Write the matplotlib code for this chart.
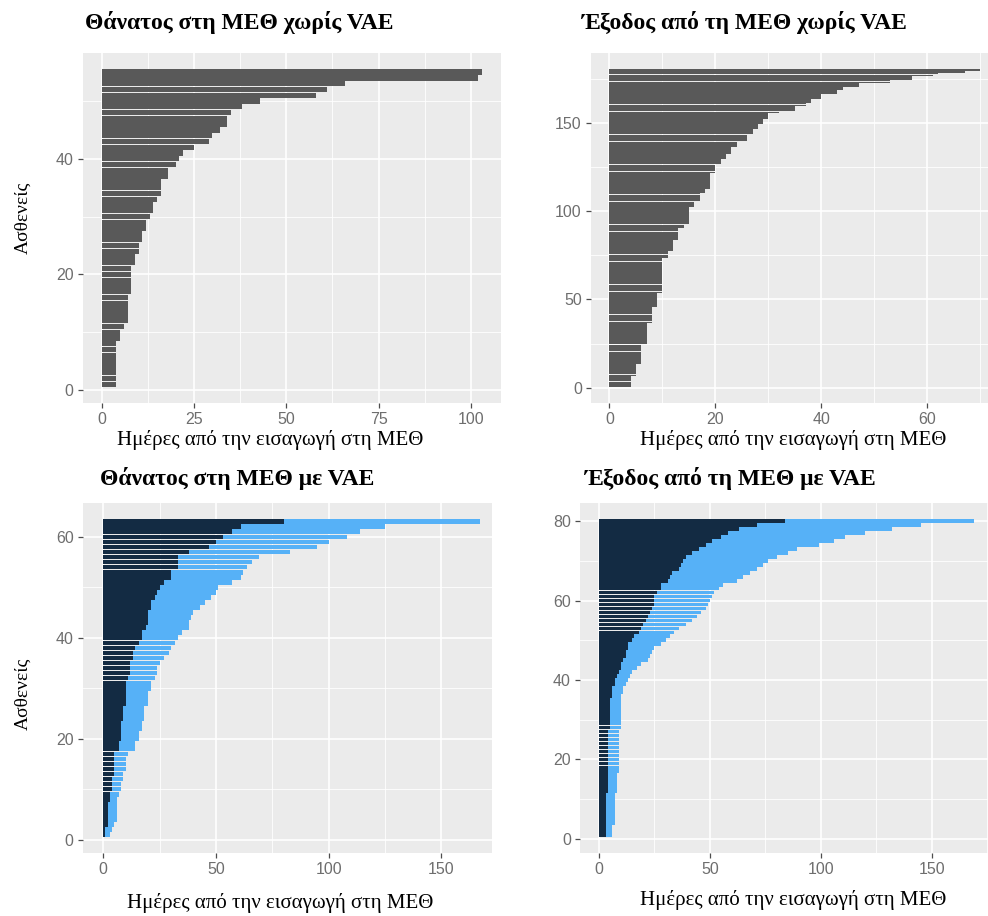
import numpy as np
import matplotlib
matplotlib.use("Agg")
import matplotlib.pyplot as plt

# --- data (days from ICU admission), patients sorted by length ---
# death in ICU without VAE (55 patients)
tl_days = [4, 4, 4, 4, 4, 4, 4, 4, 5, 5, 6, 7, 7, 7, 7, 7, 8, 8, 8, 8, 8,
           9, 9, 10, 10, 11, 11, 12, 12, 13, 14, 14, 15, 16, 16, 16, 18, 18,
           20, 21, 22, 25, 29, 30, 32, 34, 34, 35, 38, 43, 58, 61, 66, 102, 103]

# discharge from ICU without VAE (180 patients), as day levels and patient counts
tr_levels = [4, 5, 6, 7, 8, 9, 10, 11, 12, 13, 14, 15, 16, 17, 18, 19, 20, 21,
             22, 23, 24, 26, 27, 28, 29, 30, 32, 35, 37, 38, 40, 43, 44, 47,
             53, 57, 61, 62, 67, 70]
tr_counts = [6, 7, 11, 12, 9, 8, 20, 4, 6, 7, 2, 10, 3, 5, 2, 9, 5, 3,
             3, 4, 3, 4, 3, 3, 3, 3, 1, 3, 2, 2, 3, 2, 2, 2,
             2, 2, 1, 1, 1, 1]

# death in ICU with VAE (63 patients): days until VAE and total days
bl_vae = [1, 1, 2, 2, 2, 2, 2, 3, 3, 4, 4, 4, 5, 5, 5, 5, 5, 7, 7, 8, 8,
          8, 8, 9, 9, 9, 10, 10, 10, 10, 10, 11, 12, 12, 12, 13, 13, 14, 16,
          17, 17, 19, 20, 20, 20, 21, 21, 23, 24, 25, 27, 30, 30, 33, 33, 33,
          38, 47, 50, 53, 57, 61, 80]
bl_total = [3, 4, 5, 6, 6, 6, 6, 6, 7, 8, 8, 9, 9, 10, 10, 10, 11, 14, 14,
            16, 16, 17, 17, 18, 18, 18, 20, 20, 20, 21, 21, 23, 24, 24, 25,
            27, 29, 30, 32, 33, 35, 38, 38, 39, 40, 43, 45, 48, 50, 51, 57,
            61, 62, 64, 66, 69, 83, 95, 100, 108, 114, 125, 167]

# discharge from ICU with VAE (80 patients)
br_vae = [3, 3, 3, 3, 3, 3, 3, 3, 3, 3, 3, 4, 4, 4, 4, 4, 4, 4, 4, 4, 4, 4,
          4, 4, 4, 4, 4, 5, 5, 5, 5, 5, 5, 5, 5, 6, 6, 6, 7, 7, 8, 9, 10, 10,
          11, 12, 12, 13, 13, 15, 16, 18, 19, 20, 21, 22, 23, 24, 25, 25, 25,
          26, 28, 28, 31, 32, 33, 36, 37, 38, 39, 42, 45, 48, 51, 55, 58, 63,
          71, 84]
br_total = [6, 6, 6, 7, 7, 7, 7, 7, 7, 7, 7, 8, 8, 8, 8, 8, 9, 9, 9, 9, 9, 9,
            9, 9, 9, 9, 9, 10, 10, 10, 10, 10, 10, 10, 10, 10, 11, 11, 12, 13,
            14, 15, 17, 19, 22, 23, 24, 25, 28, 30, 32, 34, 36, 39, 42, 44,
            46, 48, 49, 50, 51, 52, 54, 56, 62, 65, 68, 71, 74, 76, 80, 85, 89,
            99, 106, 111, 120, 132, 145, 169]

titles = ["Θάνατος στη ΜΕΘ χωρίς VAE", "Έξοδος από τη ΜΕΘ χωρίς VAE",
          "Θάνατος στη ΜΕΘ με VAE", "Έξοδος από τη ΜΕΘ με VAE"]
xlabel = "Ημέρες από την εισαγωγή στη ΜΕΘ"
ylabel = "Ασθενείς"

GREY_BAR = "#595959"
NAVY = "#132B43"
LIGHT = "#56B1F7"
SERIF = "Liberation Serif"
SANS = "Liberation Sans"
BAR_H = 0.92

W, H = 988, 916
fig = plt.figure(figsize=(W / 100, H / 100), dpi=100)


def px_axes(x0, y0, x1, y1):
    return fig.add_axes([x0 / W, 1 - y1 / H, (x1 - x0) / W, (y1 - y0) / H])


def style(ax, xlim, ylim, xmaj, xmin, ymaj, ymin):
    ax.set_facecolor("#EBEBEB")
    ax.set_xlim(*xlim)
    ax.set_ylim(*ylim)
    ax.set_xticks(xmaj)
    ax.set_xticks(xmin, minor=True)
    ax.set_yticks(ymaj)
    ax.set_yticks(ymin, minor=True)
    ax.grid(True, which="major", color="white", lw=1.2)
    ax.grid(True, which="minor", color="white", lw=0.6)
    ax.set_axisbelow(True)
    for s in ax.spines.values():
        s.set_visible(False)
    ax.tick_params(which="major", length=3.5, width=0.9, color="#4D4D4D",
                   labelcolor="#6E6E6E", labelsize=11.5, pad=3)
    ax.tick_params(which="minor", length=0)
    for lab in ax.get_xticklabels() + ax.get_yticklabels():
        lab.set_fontfamily(SANS)


# top left
ax1 = px_axes(82.7, 53.3, 501, 403)
y1 = np.arange(1, len(tl_days) + 1)
ax1.barh(y1, tl_days, height=BAR_H, color=GREY_BAR, lw=0)
style(ax1, (-5.15, 108.15), (-2.25, 58.25),
      [0, 25, 50, 75, 100], [12.5, 37.5, 62.5, 87.5], [0, 20, 40], [10, 30, 50])

# top right
ax2 = px_axes(590.9, 53.3, 999, 402.7)
tr_days = np.repeat(tr_levels, tr_counts)
y2 = np.arange(1, len(tr_days) + 1)
ax2.barh(y2, tr_days, height=BAR_H, color=GREY_BAR, lw=0)
style(ax2, (-3.5, 73.5), (-8.5, 189.5),
      [0, 20, 40, 60], [10, 30, 50, 70], [0, 50, 100, 150], [25, 75, 125, 175])

# bottom left
ax3 = px_axes(82.7, 503.3, 492, 853)
y3 = np.arange(1, len(bl_total) + 1)
bl_after = np.array(bl_total) - np.array(bl_vae)
ax3.barh(y3, bl_vae, height=BAR_H, color=NAVY, lw=0)
ax3.barh(y3, bl_after, left=bl_vae, height=BAR_H, color=LIGHT, lw=0)
style(ax3, (-9.1, 172.5), (-2.65, 66.65),
      [0, 50, 100, 150], [25, 75, 125], [0, 20, 40, 60], [10, 30, 50])

# bottom right
ax4 = px_axes(580, 503.3, 993, 852.7)
y4 = np.arange(1, len(br_total) + 1)
br_after = np.array(br_total) - np.array(br_vae)
ax4.barh(y4, br_vae, height=BAR_H, color=NAVY, lw=0)
ax4.barh(y4, br_after, left=br_vae, height=BAR_H, color=LIGHT, lw=0)
style(ax4, (-8.55, 177.5), (-3.5, 84.5),
      [0, 50, 100, 150], [25, 75, 125, 175], [0, 20, 40, 60, 80], [10, 30, 50, 70])

# titles and labels
title_pos = [(85, 22), (582, 22), (100, 478), (585, 478)]
for (tx, ty), t in zip(title_pos, titles):
    fig.text(tx / W, 1 - ty / H, t, family=SERIF, weight="bold", fontsize=17,
             ha="left", va="center")

xlab_pos = [(270, 440), (793, 440), (280, 903), (793, 900)]
for xx, yy in xlab_pos:
    fig.text(xx / W, 1 - yy / H, xlabel, family=SERIF, fontsize=15,
             ha="center", va="center")

for yy in (218, 694):
    fig.text(23 / W, 1 - yy / H, ylabel, family=SERIF, fontsize=14,
             rotation=90, ha="center", va="center")

fig.savefig("out.png", dpi=100, facecolor="white")
